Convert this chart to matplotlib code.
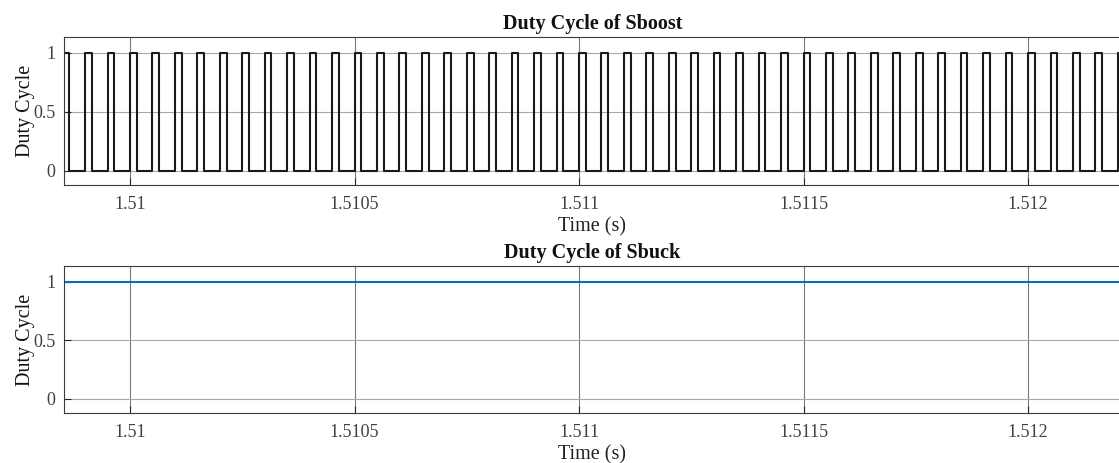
import numpy as np
import matplotlib
matplotlib.use("Agg")
import matplotlib.pyplot as plt

# ---- data ----
t_start = 1.509853          # s, left edge of the view
t_end = 1.512207            # s, right edge of the view
pwm_period = 50e-6          # s, switching period of Sboost
pwm_duty = 0.30             # fraction of period the switch is on
first_rise = 1.5098         # s, a rising edge before the view
sbuck_level = [1.0, 1.0]    # constant duty cycle of Sbuck

xticks = [1.51, 1.5105, 1.511, 1.5115, 1.512]
xtick_labels = ["1.51", "1.5105", "1.511", "1.5115", "1.512"]
yticks = [0, 0.5, 1]
ytick_labels = ["0", "0.5", "1"]

# build the PWM step waveform from the edges
rises = np.arange(first_rise, t_end + pwm_period, pwm_period)
t_pts = [t_start]
y_pts = [1.0 if (t_start - first_rise) % pwm_period < pwm_duty * pwm_period else 0.0]
for r in rises:
    f = r + pwm_duty * pwm_period
    for edge, lvl in ((r, 1.0), (f, 0.0)):
        if t_start < edge < t_end:
            t_pts += [edge, edge]
            y_pts += [y_pts[-1], lvl]
t_pts.append(t_end)
y_pts.append(y_pts[-1])

plt.rcParams['font.family'] = ['Liberation Serif', 'DejaVu Serif']

fig = plt.figure(figsize=(11.19, 4.63), dpi=100)
ax1 = fig.add_axes([64 / 1119, 0.6004, (1121 - 64) / 1119, 0.3196])
ax2 = fig.add_axes([64 / 1119, 0.108, (1121 - 64) / 1119, 0.3175])

ax1.plot(t_pts, y_pts, color='#1a1a1a', lw=1.5)
ax2.plot([t_start, t_end], sbuck_level, color='#0072BD', lw=1.5)

for ax, title in ((ax1, "Duty Cycle of Sboost"), (ax2, "Duty Cycle of Sbuck")):
    ax.set_xlim(t_start, t_end)
    ax.set_ylim(-0.123, 1.133)
    ax.set_xticks(xticks)
    ax.set_xticklabels(xtick_labels)
    ax.set_yticks(yticks)
    ax.set_yticklabels(ytick_labels)
    ax.grid(True, axis='x', color='#7a7a7a', lw=0.8)
    ax.grid(True, axis='y', color='#a8a8a8', lw=0.8)
    ax.set_axisbelow(True)
    ax.tick_params(direction='in', length=5, width=0.8, colors='#262626',
                   labelcolor='#404040', labelsize=13, pad=8)
    ax.tick_params(axis='y', pad=6)
    for s in ax.spines.values():
        s.set_color('#3a3a3a')
        s.set_linewidth(0.8)
    ax.set_title(title, fontsize=14.5, fontweight='bold', pad=6, color='#111111')
    ax.set_xlabel("Time (s)", fontsize=14.5, labelpad=3, color='#222222')
    ax.set_ylabel("Duty Cycle", fontsize=14.5, labelpad=-1, color='#111111')

fig.savefig("out.png", dpi=100)
